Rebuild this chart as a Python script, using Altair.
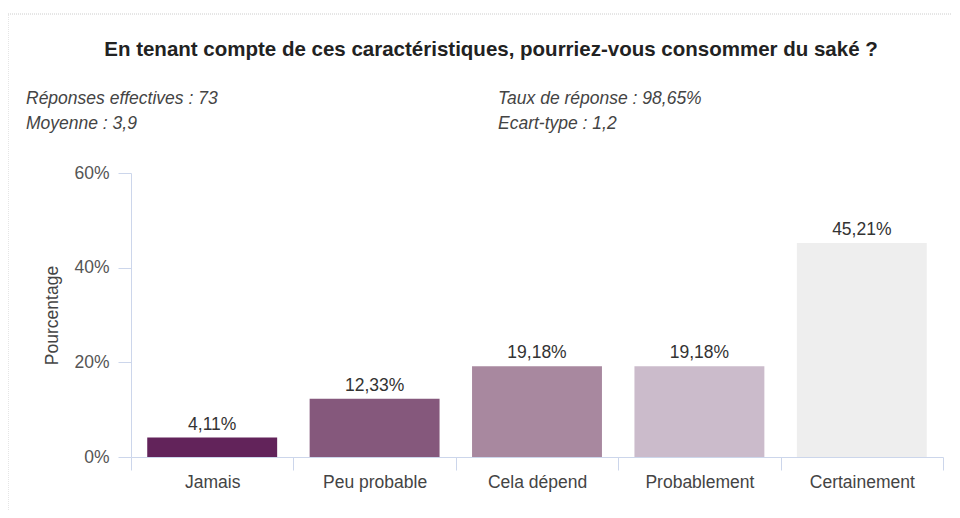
import altair as alt
import pandas as pd

categories = ["Jamais", "Peu probable", "Cela dépend", "Probablement", "Certainement"]
values = [4.11, 12.33, 19.18, 19.18, 45.21]
colors = ["#62235a", "#85587c", "#a8889f", "#cbbbcb", "#eeeeee"]
y_ticks = [0, 20, 40, 60]

title_text = "En tenant compte de ces caractéristiques, pourriez-vous consommer du saké ?"
stats_left = ["Réponses effectives : 73", "Moyenne : 3,9"]
stats_right = ["Taux de réponse : 98,65%", "Ecart-type : 1,2"]

df = pd.DataFrame({"cat": categories, "val": values, "color": colors})

FONT = "Liberation Sans"
FS = 17.5
W, H = 812, 284

x_enc = alt.X(
    "cat:N",
    sort=categories,
    scale=alt.Scale(paddingInner=0, paddingOuter=0),
    axis=alt.Axis(
        title=None,
        labelAngle=0,
        tickBand="extent",
        tickSize=13,
        tickColor="#ccd6eb",
        domainColor="#ccd6eb",
        labelColor="#444444",
        labelFontSize=FS,
        labelFont=FONT,
        labelPadding=3,
    ),
)
y_enc = alt.Y(
    "val:Q",
    scale=alt.Scale(domain=[0, 60], nice=False),
    axis=alt.Axis(
        title="Pourcentage",
        values=y_ticks,
        labelExpr="datum.value + '%'",
        grid=False,
        tickSize=13,
        tickColor="#ccd6eb",
        domainColor="#ccd6eb",
        labelColor="#555555",
        labelFontSize=FS,
        labelFont=FONT,
        labelPadding=9,
        titleFont=FONT,
        titleFontSize=FS,
        titleFontWeight="normal",
        titleColor="#444444",
        titlePadding=12,
    ),
)

bars = alt.Chart(df).mark_bar(width=alt.RelativeBandSize(0.8)).encode(
    x=x_enc,
    y=y_enc,
    color=alt.Color("color:N", scale=None, legend=None),
)

labels = alt.Chart(df).transform_calculate(
    lbl="replace(format(datum.val, '.2f'), '.', ',') + '%'"
).mark_text(dy=-13, fontSize=FS, font=FONT, color="#333333").encode(
    x=alt.X("cat:N", sort=categories),
    y="val:Q",
    text="lbl:N",
)

border = alt.Chart(pd.DataFrame({"a": [0]})).mark_rect(
    fill=None, stroke="#cccccc", strokeDash=[1, 1], strokeWidth=1
).encode(
    x=alt.value(-123), x2=alt.value(W + 40), y=alt.value(-159), y2=alt.value(H + 120)
)

title = alt.Chart(pd.DataFrame({"t": [title_text]})).mark_text(
    fontSize=20.5, fontWeight="bold", font=FONT, color="#222222", align="center", baseline="middle"
).encode(x=alt.value(360), y=alt.value(-123), text="t:N")

stats_df = pd.DataFrame({
    "t": stats_left + stats_right,
    "xp": [-105, -105, 367, 367],
    "yp": [-74, -49, -74, -49],
})
stats_layers = [
    alt.Chart(pd.DataFrame({"t": [r.t]})).mark_text(
        fontSize=FS, fontStyle="italic", font=FONT, color="#444444", align="left", baseline="middle"
    ).encode(x=alt.value(int(r.xp)), y=alt.value(int(r.yp)), text="t:N")
    for r in stats_df.itertuples()
]

chart = alt.layer(border, bars, labels, title, *stats_layers).properties(
    width=W,
    height=H,
    padding={"left": 123, "top": 165, "right": 9, "bottom": 53},
    autosize=alt.AutoSizeParams(type="none"),
    background="white",
).configure_view(stroke=None)

chart.save("out.html", embed_options={"renderer": "svg", "actions": False})
